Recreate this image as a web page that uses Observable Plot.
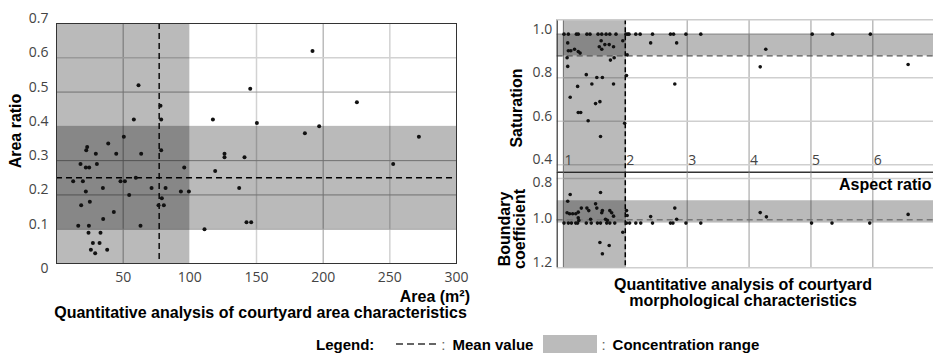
<!DOCTYPE html>
<html><head><meta charset="utf-8">
<script src="https://cdn.jsdelivr.net/npm/d3@7"></script>
<script src="https://cdn.jsdelivr.net/npm/@observablehq/plot@0.6"></script>
<style>
body{margin:0;background:#fff}
#root{position:relative;width:933px;height:353px;overflow:hidden;font-family:"Liberation Sans",Arial,sans-serif;color:#000;background:#fff}
.pp{position:absolute}
.pp svg{display:block}
.lbl{position:absolute;font-weight:bold;font-size:16px;white-space:nowrap;line-height:1}
#legend{position:absolute;display:flex;align-items:center;font-size:15px;white-space:nowrap;transform:translateY(-50%)}
#legend b{font-weight:bold}
#legend .c{color:#666;font-weight:normal;margin:0 7px 0 3px}
</style></head><body>
<div id="root">
  <div id="pLeft" class="pp" style="left:0;top:0"></div>
  <div id="pTop" class="pp" style="left:480px;top:0"></div>
  <div id="pBot" class="pp" style="left:480px;top:172px"></div>
</div>
<script>
// ---------- Left panel: area vs area ratio ----------
const areaValues = [61.5,78,78.5,58,50.5,38.8,23,22.3,29.5,44.8,63.5,78.5,18,30.3,22,24.5,95.8,12.5,19.8,48,51.3,59.5,22,34.8,54.5,71.3,81.8,79,76.5,80.5,93.3,99.3,18.5,25,43,35,16.3,24.3,63,24,33,27.3,32.3,25.8,38,29,
  117.3,111,119,126,126,137,141,142.5,146,145.3,150.3,186.3,192,197,225.3,252.5,271.8];
const areaRatioValues = [0.52,0.46,0.42,0.42,0.37,0.35,0.34,0.33,0.32,0.32,0.32,0.33,0.29,0.29,0.28,0.28,0.28,0.24,0.24,0.24,0.24,0.25,0.21,0.22,0.20,0.22,0.22,0.19,0.17,0.17,0.21,0.21,0.17,0.18,0.15,0.13,0.11,0.11,0.11,0.09,0.09,0.06,0.06,0.04,0.04,0.03,
  0.42,0.10,0.27,0.32,0.31,0.22,0.31,0.12,0.12,0.51,0.41,0.38,0.62,0.40,0.47,0.29,0.37];
const areaDomain = [0, 300];
const ratioDomain = [0, 0.7];
const areaTicks = [50, 100, 150, 200, 250, 300];
const ratioTicks = [0, 0.1, 0.2, 0.3, 0.4, 0.5, 0.6, 0.7];
const areaGridDark = [50, 200];
const areaGridLight = [150, 250];
const ratioGridDark = [0.1, 0.2, 0.3, 0.5];
const ratioGridLight = [0.6];
const areaRange = [0, 100];
const ratioRange = [0.1, 0.4];
const areaMean = 77;
const ratioMean = 0.25;

// ---------- Right top: aspect ratio vs saturation ----------
const satAspect = [1.01,1.08,1.21,1.24,1.38,1.43,1.56,1.62,1.69,1.75,1.85,2.01,2.04,2.06,2.17,2.24,2.44,2.73,2.78,2.98,3.22,5.02,5.35,5.96,
  1.07,1.61,1.96,2.41,2.83,1.08,1.12,1.18,1.24,1.27,1.58,1.62,1.67,1.74,1.81,1.06,1.82,1.76,2.03,1.07,1.37,1.54,1.63,2.02,1.46,1.81,2.80,1.23,1.11,1.52,1.59,1.24,1.28,1.40,1.99,1.60,4.27,4.18,6.57];
const satValues = [1,1,1,1,1,1,1,1,1,1,1,1,1,1,1,1,1,1,1,1,1,1,1,1,
  0.96,0.97,0.97,0.96,0.96,0.924,0.924,0.931,0.92,0.913,0.942,0.931,0.952,0.952,0.942,0.892,0.892,0.881,0.905,0.852,0.814,0.801,0.801,0.81,0.771,0.771,0.771,0.76,0.71,0.681,0.69,0.64,0.64,0.602,0.591,0.53,0.931,0.85,0.861];
const aspectDomain = [0.9, 6.98];
const satDomain = [0.366, 1.066];
const aspectTicks = [1, 2, 3, 4, 5, 6];
const satTicks = [0.4, 0.6, 0.8, 1.0];
const satGridLight = [0.4, 0.6, 0.8];
const aspectRange = [1, 2];
const satRange = [0.9, 1.0];
const aspectMean = 2.0;
const satMean = 0.9;

// ---------- Right bottom: aspect ratio vs boundary coefficient ----------
const bcAspect = [1.01,1.08,1.13,1.2,1.23,1.37,1.45,1.55,1.6,1.7,1.75,1.83,2.02,2.07,2.17,2.25,2.44,2.73,2.77,2.98,3.22,5.01,5.34,5.95,
  1.11,1.07,1.60,1.06,1.10,1.15,1.20,1.24,1.29,1.38,1.41,1.52,1.54,1.62,1.63,1.75,1.78,1.81,1.24,1.25,1.44,1.68,1.71,2.02,2.03,2.41,2.80,2.83,1.96,1.59,1.74,1.63,4.18,4.28,6.57];
const bcValues = [1,1,1,1,1,1,1,1,1,1,1,1,1,1,1,1,1,1,1,1,1,1,1,1,
  0.872,0.902,0.863,0.954,0.958,0.958,0.958,0.951,0.933,0.933,0.944,0.914,0.933,0.954,0.944,0.944,0.954,0.969,0.976,0.988,0.983,0.983,0.988,0.944,0.966,0.971,0.933,0.983,1.041,1.087,1.10,1.137,0.953,0.972,0.961];
const bcDomain = [1.2, 0.775];
const bcTicksUpper = [1.0, 1.2];
const bcTicksLower = [0.8];
const bcGridLight = [0.8, 1.2];
const bcRange = [0.9, 1.0];
const bcMean = 0.985;

const bandFill = "#000", bandOpacity = 0.27;
const tickStyle = {fontFamily: "'Open Sans', sans-serif", fontSize: "14px", background: "transparent", overflow: "visible"};

const idx = n => d3.range(n);

const plotLeft = Plot.plot({
  width: 470, height: 300, marginLeft: 56, marginRight: 14, marginTop: 23, marginBottom: 37,
  x: {domain: areaDomain}, y: {domain: ratioDomain},
  style: tickStyle,
  marks: [
    Plot.ruleX(areaGridDark, {stroke: "#9a9a9a"}),
    Plot.ruleX(areaGridLight, {stroke: "#d2d2d2", strokeWidth: 1.5}),
    Plot.ruleY(ratioGridDark, {stroke: "#9a9a9a"}),
    Plot.ruleY(ratioGridLight, {stroke: "#d2d2d2", strokeWidth: 1.5}),
    Plot.rect([areaRange], {x1: d => d[0], x2: d => d[1], y1: () => ratioDomain[0], y2: () => ratioDomain[1], fill: bandFill, fillOpacity: bandOpacity}),
    Plot.rect([ratioRange], {y1: d => d[0], y2: d => d[1], x1: () => areaDomain[0], x2: () => areaDomain[1], fill: bandFill, fillOpacity: bandOpacity}),
    Plot.ruleX([areaMean], {stroke: "#000", strokeWidth: 1.4, strokeDasharray: "6,4"}),
    Plot.ruleY([ratioMean], {stroke: "#000", strokeWidth: 1.4, strokeDasharray: "6,4"}),
    Plot.dot(idx(areaValues.length), {x: i => areaValues[i], y: i => areaRatioValues[i], r: 2, fill: "#111", stroke: null}),
    Plot.frame({stroke: "#333"}),
    Plot.axisY({ticks: ratioTicks.filter(v => v > 0), tickSize: 0, tickPadding: 8, dy: -5, label: null, fill: "#444", tickFormat: d3.format(".1f")}),
    Plot.axisY({ticks: [0], tickSize: 0, tickPadding: 8, dy: 5, label: null, fill: "#444", tickFormat: d => "0"}),
    Plot.axisX({ticks: areaTicks, tickSize: 0, tickPadding: 9, label: null, fill: "#444"})
  ]
});
document.getElementById("pLeft").append(plotLeft);

const plotTop = Plot.plot({
  width: 453, height: 173, marginLeft: 76.7, marginRight: 0, marginTop: 19.3, marginBottom: 1.3,
  x: {domain: aspectDomain, axis: null}, y: {domain: satDomain},
  style: tickStyle,
  marks: [
    Plot.ruleX(aspectTicks, {stroke: "#9a9a9a"}),
    Plot.ruleY(satGridLight, {stroke: "#cfcfcf", strokeWidth: 1.5}),
    Plot.rect([aspectRange], {x1: d => d[0], x2: d => d[1], y1: () => satDomain[0], y2: () => satDomain[1], fill: bandFill, fillOpacity: bandOpacity}),
    Plot.rect([satRange], {y1: d => d[0], y2: d => d[1], x1: () => aspectDomain[0], x2: () => aspectDomain[1], fill: bandFill, fillOpacity: bandOpacity}),
    Plot.ruleY([satRange[1]], {stroke: "#8a8a8a"}),
    Plot.ruleY([satMean], {stroke: "#555", strokeWidth: 1.3, strokeDasharray: "6,4"}),
    Plot.ruleX([aspectMean], {stroke: "#000", strokeWidth: 1.5, strokeDasharray: "5,3"}),
    Plot.dot(idx(satAspect.length), {x: i => satAspect[i], y: i => satValues[i], r: 1.8, fill: "#111", stroke: null}),
    Plot.ruleX([aspectDomain[0]], {stroke: "#333", strokeWidth: 1.2}),
    Plot.ruleY([satDomain[1]], {stroke: "#cccccc", strokeWidth: 1.5}),
    Plot.ruleY([satDomain[0]], {stroke: "#333", strokeWidth: 1.5}),
    Plot.axisY({ticks: satTicks, tickSize: 0, tickPadding: 5, dy: -5, label: null, fill: "#444", tickFormat: d3.format(".1f")}),
    Plot.text(aspectTicks, {x: d => d, frameAnchor: "bottom", dy: -7, dx: 1, textAnchor: "start", fill: "#444", fontSize: 14})
  ]
});
document.getElementById("pTop").append(plotTop);

const plotBot = Plot.plot({
  width: 453, height: 96, marginLeft: 76.7, marginRight: 0, marginTop: 0.3, marginBottom: 0.7,
  x: {domain: aspectDomain, axis: null}, y: {domain: bcDomain},
  style: tickStyle,
  marks: [
    Plot.ruleX(aspectTicks, {stroke: "#9a9a9a"}),
    Plot.ruleY(bcGridLight, {stroke: "#cfcfcf", strokeWidth: 1.5}),
    Plot.rect([aspectRange], {x1: d => d[0], x2: d => d[1], y1: () => bcDomain[0], y2: () => bcDomain[1], fill: bandFill, fillOpacity: bandOpacity}),
    Plot.rect([bcRange], {y1: d => d[0], y2: d => d[1], x1: () => aspectDomain[0], x2: () => aspectDomain[1], fill: bandFill, fillOpacity: bandOpacity}),
    Plot.ruleY([bcMean], {stroke: "#777", strokeWidth: 1.3, strokeDasharray: "6,4"}),
    Plot.ruleX([aspectMean], {stroke: "#000", strokeWidth: 1.5, strokeDasharray: "5,3"}),
    Plot.dot(idx(bcAspect.length), {x: i => bcAspect[i], y: i => bcValues[i], r: 1.8, fill: "#111", stroke: null}),
    Plot.ruleX([aspectDomain[0]], {stroke: "#333", strokeWidth: 1.2}),
    Plot.axisY({ticks: bcTicksUpper, tickSize: 0, tickPadding: 5, dy: -5, label: null, fill: "#444", tickFormat: d3.format(".1f")}),
    Plot.axisY({ticks: bcTicksLower, tickSize: 0, tickPadding: 5, dy: 4.5, label: null, fill: "#444", tickFormat: d3.format(".1f")})
  ]
});
document.getElementById("pBot").append(plotBot);

// ---------- Text labels ----------
const root = document.getElementById("root");
function label(html, x, y, opts = {}) {
  const d = document.createElement("div");
  d.className = "lbl";
  d.innerHTML = html;
  d.style.left = x + "px";
  d.style.top = y + "px";
  const a = opts.anchor === "end" ? "-100%" : opts.anchor === "start" ? "0" : "-50%";
  d.style.transform = `translate(${a},-50%)` + (opts.rotate ? ` rotate(${opts.rotate}deg)` : "");
  root.append(d);
  return d;
}
label("Area ratio", 16, 131, {rotate: -90});
label("Area (m²)", 470, 297, {anchor: "end"});
label("Quantitative analysis of courtyard area characteristics", 260.5, 312.5);
label("Saturation", 517, 107.5, {rotate: -90});
label("Boundary", 505, 228.5, {rotate: -90});
label("coefficient", 520, 228.5, {rotate: -90});
label("Aspect ratio", 931.5, 185, {anchor: "end"});
label("Quantitative analysis of courtyard", 743, 284.5);
label("morphological characteristics", 743, 300.5);

const lg = document.createElement("div");
lg.id = "legend";
lg.style.left = "316px";
lg.style.top = "344px";
lg.innerHTML = `<b>Legend:</b><span style="width:22px"></span>
<svg width="42" height="6"><line x1="0" y1="3" x2="42" y2="3" stroke="#333" stroke-width="1.3" stroke-dasharray="7,4"/></svg>
<span class="c">:</span><b>Mean value</b><span style="width:10px"></span>
<span style="display:inline-block;width:54px;height:18px;background:#bbbbbb"></span>
<span class="c" style="margin-left:4px">:</span><b>Concentration range</b>`;
root.append(lg);
</script>
</body></html>
